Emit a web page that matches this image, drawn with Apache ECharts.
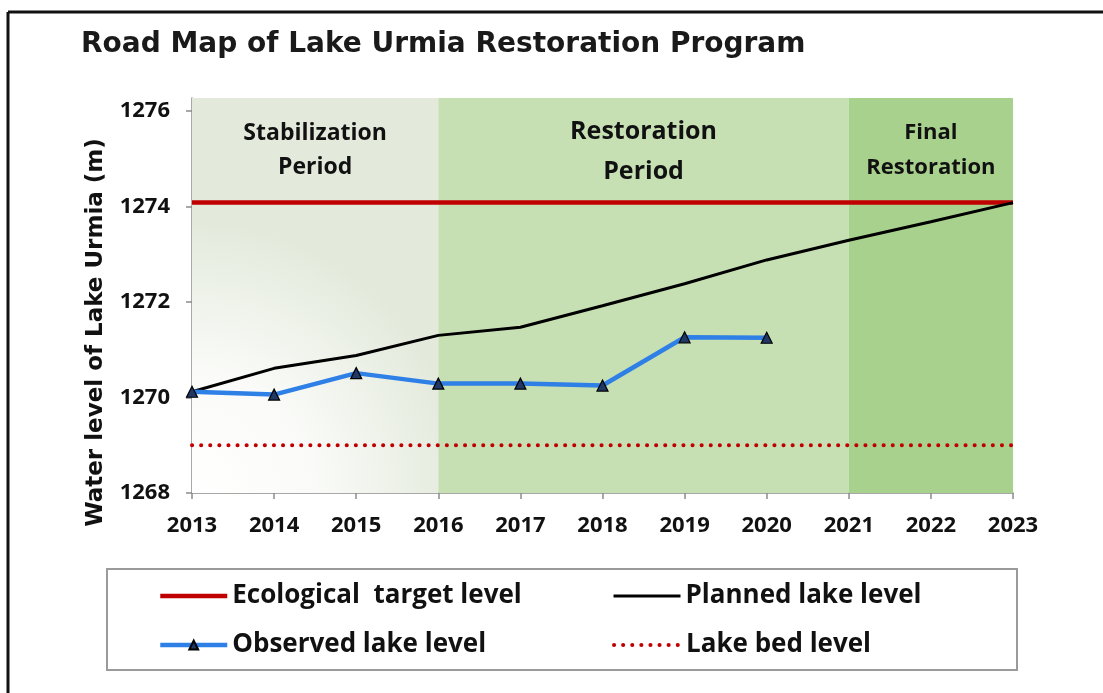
<!DOCTYPE html>
<html>
<head>
<meta charset="utf-8">
<script src="https://cdn.jsdelivr.net/npm/echarts@6/dist/echarts.min.js"></script>
<style>
  html, body { margin: 0; padding: 0; background: #fff; }
  #chart { width: 1103px; height: 693px; }
</style>
</head>
<body>
<div id="chart"></div>
<script>
let years = [2013, 2014, 2015, 2016, 2017, 2018, 2019, 2020, 2021, 2022, 2023]
let planned = [1270.12, 1270.61, 1270.88, 1271.3, 1271.47, 1271.92, 1272.38, 1272.88, 1273.29, 1273.68, 1274.08]
let observedYears = [2013, 2014, 2015, 2016, 2017, 2018, 2019, 2020]
let observed = [1270.12, 1270.06, 1270.51, 1270.29, 1270.29, 1270.25, 1271.26, 1271.25]
let targetLevel = 1274.08
let bedLevel = 1269.0
let periods = [
  { name: 'Stabilization\nPeriod', from: 2013, to: 2016 },
  { name: 'Restoration\nPeriod', from: 2016, to: 2021 },
  { name: 'Final\nRestoration', from: 2021, to: 2023 }
]
let yTicks = [1268, 1270, 1272, 1274, 1276]
let bandTop = 1276.27

let labelFont = 'Open Sans'
let headFont = 'DejaVu Sans'

let periodStyles = [
  {
    color: new echarts.graphic.RadialGradient(0, 1, 1.1, [
      { offset: 0, color: '#ffffff' },
      { offset: 0.45, color: '#fafbf8' },
      { offset: 1, color: '#e3eadc' }
    ]),
    fontSize: 23, lineHeight: 34, distance: 18
  },
  { color: '#c6e0b4', fontSize: 25, lineHeight: 40, distance: 14 },
  { color: '#a9d18e', fontSize: 22, lineHeight: 35, distance: 17 }
]

// round dots for the lake bed line
let dotType = [0.1, 9]

let myChart = echarts.init(document.getElementById('chart'), null, { renderer: 'canvas' })

let pairs = (xs, ys) => xs.map((x, i) => [x, ys[i]])

let legendItem = (name, left, top, lineStyle, showSymbol) => ({
  data: [{
    name,
    itemStyle: showSymbol ? undefined : { opacity: 0 },
    lineStyle
  }],
  left,
  top,
  itemWidth: 67,
  itemHeight: 11,
  itemGap: 0,
  padding: 0,
  textStyle: { fontFamily: labelFont, fontWeight: 'bold', fontSize: 26, color: '#111' }
})

let option = {
  animation: false,
  backgroundColor: '#ffffff',
  title: {
    text: 'Road Map of Lake Urmia Restoration Program',
    left: 76,
    top: 26,
    textStyle: {
      fontFamily: headFont,
      fontWeight: 'bold',
      fontSize: 28,
      color: '#1a1a1a'
    }
  },
  grid: {
    left: 192,
    right: 90,
    top: 98,
    bottom: 200
  },
  legend: [
    legendItem('Ecological  target level', 158, 583, { width: 4.5 }, false),
    legendItem('Planned lake level', 612, 583, { width: 3 }, false),
    legendItem('Observed lake level', 158, 632, { width: 4.5 }, true),
    legendItem('Lake bed level', 612, 632, { width: 4, type: dotType, cap: 'round' }, false)
  ],
  xAxis: {
    type: 'value',
    min: years[0],
    max: years[years.length - 1],
    interval: 1,
    splitLine: { show: false },
    axisLine: { show: true, lineStyle: { color: '#8c8c8c', width: 1.5 } },
    axisTick: { show: true, length: 6, lineStyle: { color: '#8c8c8c', width: 1.5 } },
    axisLabel: {
      margin: 22,
      fontFamily: labelFont,
      fontWeight: 'bold',
      fontSize: 22,
      color: '#111',
      formatter: v => String(v)
    }
  },
  yAxis: {
    type: 'value',
    min: yTicks[0],
    max: bandTop,
    name: 'Water level of Lake Urmia (m)',
    nameLocation: 'middle',
    nameGap: 84,
    nameTextStyle: {
      fontFamily: headFont,
      fontWeight: 'bold',
      fontSize: 23,
      color: '#111',
      padding: [0, 74, 0, 0]
    },
    splitLine: { show: false },
    axisLine: { show: true, lineStyle: { color: '#8c8c8c', width: 1.5 } },
    axisTick: { show: true, length: 6, customValues: yTicks, lineStyle: { color: '#8c8c8c', width: 1.5 } },
    axisLabel: {
      margin: 22,
      customValues: yTicks,
      fontFamily: labelFont,
      fontWeight: 'bold',
      fontSize: 22,
      color: '#111',
      formatter: v => String(v)
    }
  },
  series: [
    {
      name: 'Ecological  target level',
      type: 'line',
      data: years.map(y => [y, targetLevel]),
      symbol: 'none',
      z: 3,
      lineStyle: { color: '#c00000', width: 4.5 },
      itemStyle: { color: '#c00000' },
      markArea: {
        silent: true,
        z: 1,
        data: periods.map((p, i) => [
          {
            xAxis: p.from,
            yAxis: yTicks[0],
            itemStyle: { color: periodStyles[i].color },
            label: {
              show: true,
              position: 'insideTop',
              distance: periodStyles[i].distance,
              formatter: p.name,
              fontFamily: labelFont,
              fontWeight: 'bold',
              fontSize: periodStyles[i].fontSize,
              lineHeight: periodStyles[i].lineHeight,
              align: 'center',
              color: '#111'
            }
          },
          { xAxis: p.to, yAxis: bandTop }
        ])
      }
    },
    {
      name: 'Lake bed level',
      type: 'line',
      data: years.map(y => [y, bedLevel]),
      symbol: 'none',
      z: 3,
      lineStyle: { color: '#c00000', width: 4, type: dotType, cap: 'round' },
      itemStyle: { color: '#c00000' }
    },
    {
      name: 'Planned lake level',
      type: 'line',
      data: pairs(years, planned),
      symbol: 'none',
      z: 4,
      lineStyle: { color: '#000000', width: 3 },
      itemStyle: { color: '#000000' }
    },
    {
      name: 'Observed lake level',
      type: 'line',
      data: pairs(observedYears, observed),
      symbol: 'triangle',
      symbolSize: 11,
      z: 5,
      lineStyle: { color: '#2e7fe6', width: 4.5 },
      itemStyle: { color: '#1f3864', borderColor: '#000000', borderWidth: 1.2 }
    }
  ],
  graphic: [
    {
      type: 'line',
      shape: { x1: 8, y1: 12, x2: 1103, y2: 12 },
      style: { stroke: '#111', lineWidth: 3 }
    },
    {
      type: 'line',
      shape: { x1: 8, y1: 12, x2: 8, y2: 693 },
      style: { stroke: '#111', lineWidth: 3 }
    },
    {
      type: 'rect',
      shape: { x: 107, y: 569, width: 910, height: 101 },
      style: { fill: 'none', stroke: '#9a9a9a', lineWidth: 2 },
      z: -1
    }
  ]
}

myChart.setOption(option)
</script>
</body>
</html>
